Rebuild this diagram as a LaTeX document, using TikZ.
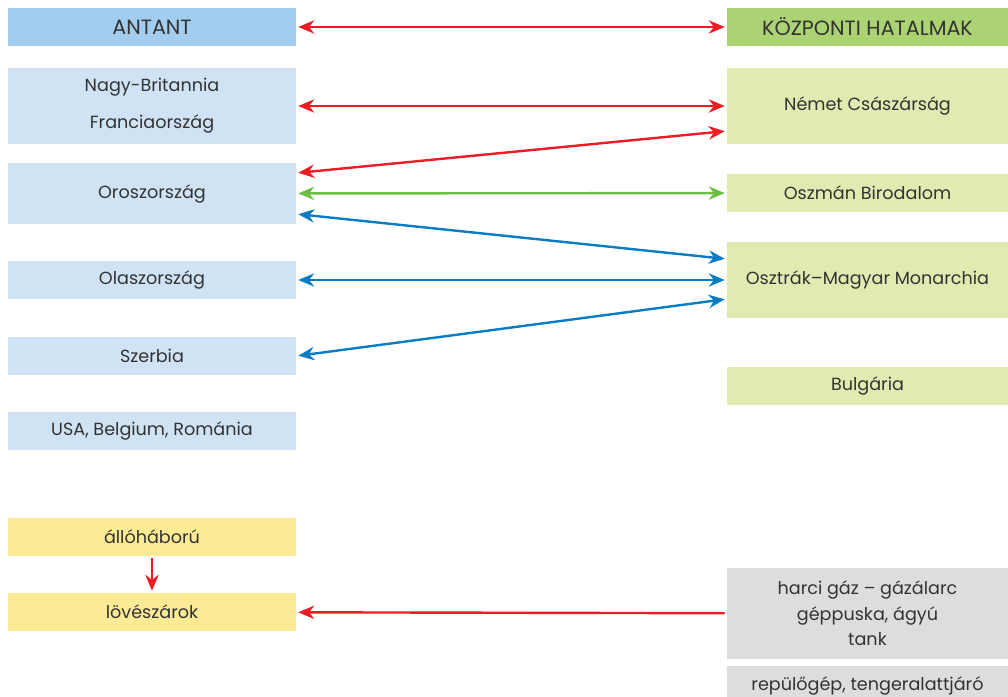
\documentclass[tikz,border=0pt]{standalone}
\usepackage{fontspec}
\setmainfont{Poppins}
\usetikzlibrary{arrows.meta,calc}

\definecolor{antantfej}{HTML}{A3CDEE}
\definecolor{antantdoboz}{HTML}{CFE3F4}
\definecolor{kozpfej}{HTML}{ACD373}
\definecolor{kozpdoboz}{HTML}{E1EAB0}
\definecolor{sarga}{HTML}{FDEA94}
\definecolor{szurke}{HTML}{DCDDDE}
\definecolor{piros}{HTML}{ED1C24}
\definecolor{zold}{HTML}{6DBE45}
\definecolor{kek}{HTML}{0A7CC4}
\definecolor{szoveg}{HTML}{333333}

\begin{document}
\begin{tikzpicture}[x=0.75pt,y=-0.75pt,
	every node/.style={inner sep=0pt,text=szoveg,align=center,font=\fontsize{13.2}{19}\selectfont},
	bal/.style={fill=antantdoboz,minimum width=216pt,minimum height=28.5pt},
	jobb/.style={fill=kozpdoboz,minimum width=210.75pt,minimum height=28.5pt},
	fej/.style={font=\fontsize{15.5}{19}\selectfont},
	ketnyil/.style={{Stealth[length=12pt,width=10pt]}-{Stealth[length=12pt,width=10pt]},line width=1.8pt,shorten >=1.5pt,shorten <=1.5pt},
	egynyil/.style={-{Stealth[length=12pt,width=10pt]},line width=1.8pt,shorten >=1.5pt,shorten <=1.5pt}]
\useasboundingbox (0,0) rectangle (1008,697);

% antant
\node[bal,fej,fill=antantfej] (antant) at (152,27) {ANTANT};
\node[bal,minimum height=57pt] (britfr) at (152,106) {Nagy-Britannia\\[9pt]Franciaország};
\node[bal,minimum height=45.75pt] (orosz) at (152,193.5) {Oroszország};
\node[bal] (olasz) at (152,280) {Olaszország};
\node[bal] (szerbia) at (152,356) {Szerbia};
\node[bal] (usa) at (152,431) {USA, Belgium, Románia};

% kozponti hatalmak
\node[jobb,fej,fill=kozpfej] (kozponti) at (867.5,27) {KÖZPONTI HATALMAK};
\node[jobb,minimum height=57pt] (nemet) at (867.5,106) {Német Császárság};
\node[jobb] (oszman) at (867.5,193) {Oszmán Birodalom};
\node[jobb,minimum height=57pt] (osztrak) at (867.5,280) {Osztrák–Magyar Monarchia};
\node[jobb] (bulgaria) at (867.5,386) {Bulgária};

% haboru
\node[bal,fill=sarga] (allo) at (152,537) {állóháború};
\node[bal,fill=sarga] (loveszarok) at (152,612) {lövészárok};
\node[jobb,fill=szurke,minimum height=68.25pt] (harci) at (867.5,613.5) {harci gáz – gázálarc\\géppuska, ágyú\\tank};
\node[jobb,fill=szurke,minimum height=30pt] (repulo) at (867.5,686) {repülőgép, tengeralattjáró};

\draw[ketnyil,piros] (antant) -- (kozponti);
\draw[ketnyil,piros] (britfr) -- (nemet);
\draw[ketnyil,piros] ($(orosz.east)+(0,-20.5)$) -- ($(nemet.west)+(0,25)$);
\draw[ketnyil,zold] (orosz) -- (oszman);
\draw[ketnyil,kek] ($(orosz.east)+(0,20.5)$) -- ($(osztrak.west)+(0,-21)$);
\draw[ketnyil,kek] (olasz) -- (osztrak);
\draw[ketnyil,kek] (szerbia.east) -- ($(osztrak.west)+(0,19)$);
\draw[egynyil,piros] (allo) -- (loveszarok);
\draw[egynyil,piros] (harci) -- (loveszarok);
\end{tikzpicture}
\end{document}
